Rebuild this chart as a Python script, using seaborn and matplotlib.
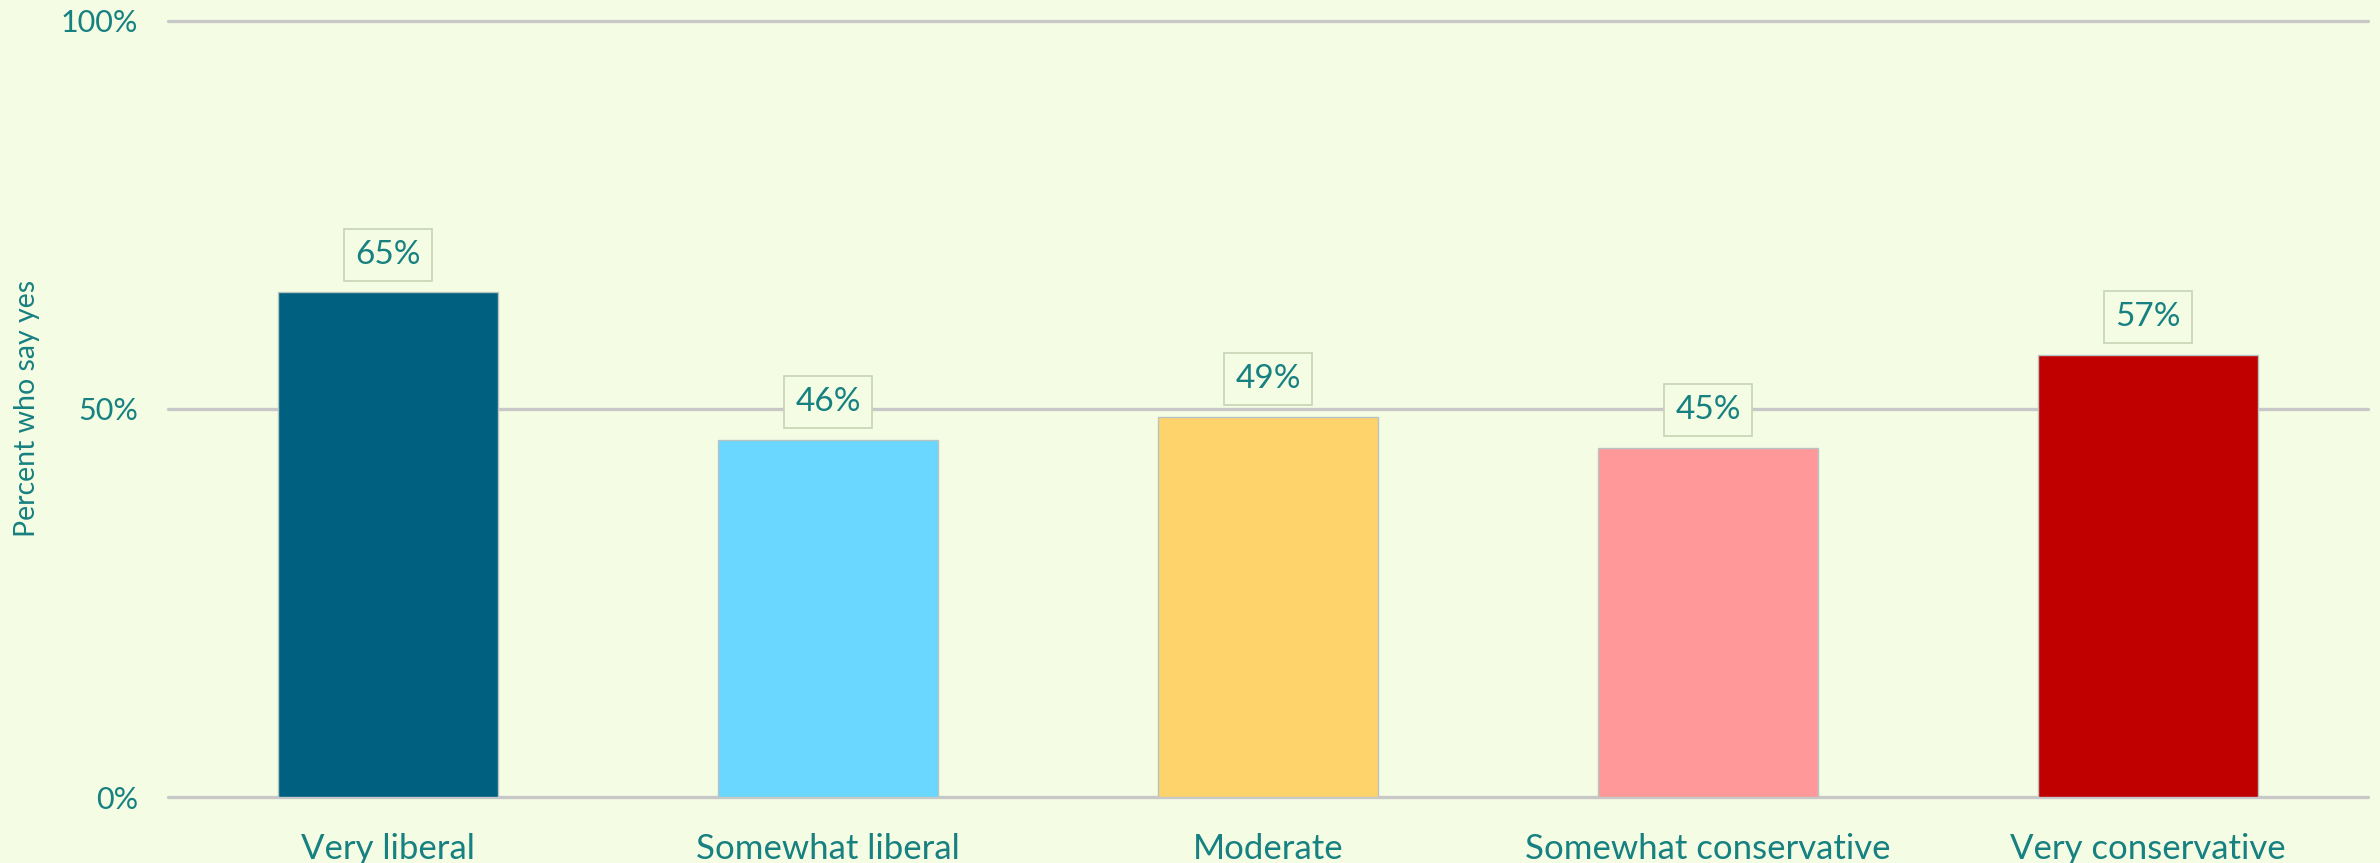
import matplotlib
matplotlib.use("Agg")
import matplotlib.pyplot as plt
import seaborn as sns
import pandas as pd

categories = ["Very liberal", "Somewhat liberal", "Moderate", "Somewhat conservative", "Very conservative"]
values = [65, 46, 49, 45, 57]
colors = ["#00607F", "#69D7FF", "#FFD36B", "#FF9999", "#C00000"]
y_ticks = [0, 50, 100]
y_tick_labels = ["0%", "50%", "100%"]
y_label = "Percent who say yes"

BG = "#F4FDE4"
TEXT = "#178080"
GRID = "#C8C8C8"

sns.set_theme(style="white")
plt.rcParams["font.family"] = ["Lato", "DejaVu Sans"]

df = pd.DataFrame({"cat": categories, "val": values})

fig = plt.figure(figsize=(23.8, 8.63), dpi=100, facecolor=BG)
ax = fig.add_axes([168 / 2380, 1 - 797 / 863, 2200 / 2380, (797 - 20.7) / 863])
ax.set_facecolor(BG)

sns.barplot(data=df, x="cat", y="val", hue="cat", palette=colors, order=categories,
            hue_order=categories, width=0.5, legend=False, ax=ax,
            edgecolor="#B8C4C4", linewidth=1.0, saturation=1, zorder=3)

ax.set_xlim(-0.5, len(categories) - 0.5)
ax.set_ylim(0, 100)

for t in y_ticks:
    ax.axhline(t, color=GRID, lw=2.4, zorder=1, clip_on=False)

ax.set_yticks(y_ticks)
ax.set_yticklabels(y_tick_labels)
ax.tick_params(axis="y", length=0, pad=21.5, labelsize=22, labelcolor=TEXT)
ax.tick_params(axis="x", length=0, pad=26, labelsize=25, labelcolor=TEXT)
ax.set_xlabel("")
ax.set_ylabel(y_label, fontsize=20.5, color=TEXT)
ax.yaxis.set_label_coords(-0.058, 0.5)

for s in ax.spines.values():
    s.set_visible(False)
ax.grid(False)

for i, v in enumerate(values):
    ax.annotate(f"{v}%", xy=(i, v), xytext=(0, 27), textcoords="offset points",
                ha="center", va="center", fontsize=24, color=TEXT, zorder=5,
                bbox=dict(boxstyle="square,pad=0.33", facecolor=BG, edgecolor="#C8D2B4", lw=1.2))

fig.savefig("out.png", dpi=100, facecolor=BG)
